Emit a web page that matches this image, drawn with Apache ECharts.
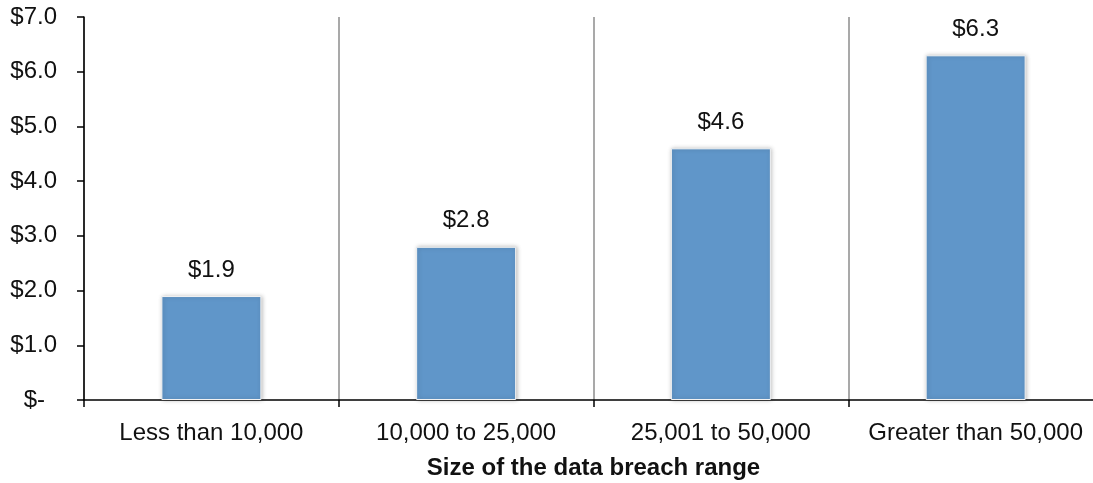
<!DOCTYPE html>
<html>
<head>
<meta charset="utf-8">
<script src="https://cdn.jsdelivr.net/npm/echarts@6/dist/echarts.min.js"></script>
<style>
  html, body { margin: 0; padding: 0; background: #fff; }
  #chart { width: 1093px; height: 483px; }
</style>
</head>
<body>
<div id="chart"></div>
<script>
// Average cost per breach (in $ millions) by breach size
const categories = ['Less than 10,000', '10,000 to 25,000', '25,001 to 50,000', 'Greater than 50,000'];
const costs = [1.9, 2.8, 4.6, 6.3];
const yTicks = [0, 1, 2, 3, 4, 5, 6, 7];
const xAxisTitle = 'Size of the data breach range';

const FONT = '"Liberation Sans", Arial, sans-serif';

const chart = echarts.init(document.getElementById('chart'), null, { renderer: 'canvas' });

chart.setOption({
  animation: false,
  backgroundColor: '#ffffff',
  grid: { left: 84, top: 17, width: 1019, bottom: 83, containLabel: false, outerBoundsMode: 'none' },
  xAxis: {
    type: 'category',
    data: categories,
    boundaryGap: true,
    axisLine: { show: true, lineStyle: { color: '#000', width: 1.5 } },
    axisTick: { show: true, alignWithLabel: false, interval: 0, length: 7, lineStyle: { color: '#000', width: 1.5 } },
    splitLine: { show: true, interval: 0, lineStyle: { color: '#8c8c8c', width: 1.5 } },
    axisLabel: { interval: 0, margin: 21, color: '#111', fontSize: 24, fontFamily: FONT },
    name: xAxisTitle,
    nameLocation: 'middle',
    nameGap: 56,
    nameTextStyle: { color: '#111', fontSize: 24, fontWeight: 'bold', fontFamily: FONT }
  },
  yAxis: {
    type: 'value',
    min: yTicks[0],
    max: yTicks[yTicks.length - 1],
    interval: 1,
    axisLine: { show: true, lineStyle: { color: '#000', width: 1.5 } },
    axisTick: { show: true, length: 7, lineStyle: { color: '#000', width: 1.5 } },
    splitLine: { show: false },
    axisLabel: {
      margin: 27,
      color: '#111',
      fontSize: 24,
      fontFamily: FONT,
      // accounting-style zero: dash padded to sit left of the decimals
      formatter: v => v === 0 ? '$-\u2002' : '$' + v.toFixed(1)
    }
  },
  series: [{
    type: 'bar',
    data: costs,
    barWidth: 100,
    itemStyle: {
      color: '#6096c9',
      borderColor: '#f2f2f2',
      borderWidth: 1,
      shadowBlur: 4,
      shadowColor: 'rgba(0,0,0,0.25)',
      shadowOffsetX: 1,
      shadowOffsetY: 0
    },
    label: {
      show: true,
      position: 'top',
      distance: 14,
      color: '#111',
      fontSize: 24,
      fontFamily: FONT,
      formatter: p => '$' + p.value.toFixed(1)
    }
  }]
});
</script>
</body>
</html>
